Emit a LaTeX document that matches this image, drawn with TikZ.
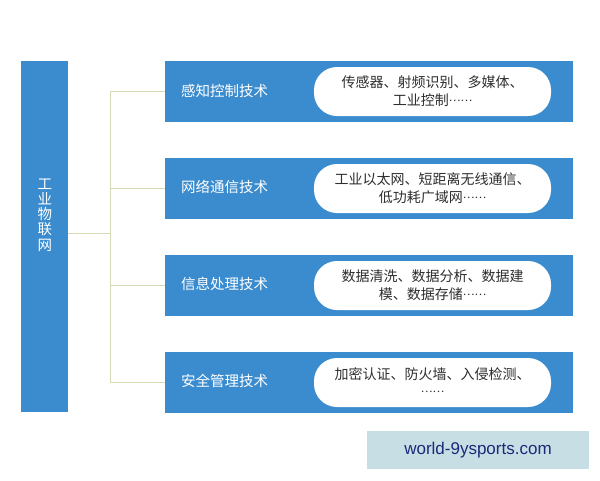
\documentclass[tikz,border=0pt]{standalone}
\usepackage{fontspec}
\setmainfont{Liberation Sans}
\newfontfamily\cjk{Noto Sans CJK SC}
\usetikzlibrary{positioning}

\definecolor{iotblue}{HTML}{3A8CCF}
\definecolor{linktan}{HTML}{D6D9B2}
\definecolor{pilltext}{HTML}{2E2E2E}
\definecolor{urlfill}{HTML}{C6DEE4}
\definecolor{urltext}{HTML}{1B2A78}

\newcommand{\middots}{\raisebox{0.32em}{\fontsize{11}{11}\selectfont ……}}

\tikzset{
  techbox/.style={fill=iotblue, draw=none, inner sep=0pt, minimum width=408pt, minimum height=61pt},
  techlabel/.style={text=white, font=\cjk\fontsize{14.5}{17}\selectfont, anchor=west, inner sep=0pt},
  pill/.style={fill=white, draw=none, rounded corners=23pt, minimum width=237pt, minimum height=49pt,
    align=center, text=pilltext, font=\cjk\fontsize{14}{18}\selectfont, inner sep=0pt},
  link/.style={draw=linktan, line width=0.9pt}
}

\begin{document}
\begin{tikzpicture}[x=1pt,y=-1pt]
          \useasboundingbox (0,0) rectangle (600,480);
          % Industrial IoT column
          \node[fill=iotblue, inner sep=0pt, minimum width=47pt, minimum height=351pt] (iot) at (44.5,236.5) {};
          \node[text=white, align=center, font=\cjk\fontsize{14.5}{15.2}\selectfont] (iotname) at (45,215) {工\\业\\物\\联\\网};
          % sensing and control
          \node[techbox] (sense) at (369,91) {};
          \node[techlabel] (senselabel) at (181,91) {感知控制技术};
          \node[pill] (sensepill) at (432.5,91.5) {传感器、射频识别、多媒体、\\工业控制\middots};
          % network communication
          \node[techbox] (net) at (369,188) {};
          \node[techlabel] (netlabel) at (181,187) {网络通信技术};
          \node[pill] (netpill) at (432.5,188.5) {工业以太网、短距离无线通信、\\低功耗广域网\middots};
          % information processing
          \node[techbox] (info) at (369,285) {};
          \node[techlabel] (infolabel) at (181,283.5) {信息处理技术};
          \node[pill] (infopill) at (432.5,285.5) {数据清洗、数据分析、数据建\\模、数据存储\middots};
          % security management
          \node[techbox] (safe) at (369,382) {};
          \node[techlabel] (safelabel) at (181,381) {安全管理技术};
          \node[pill] (safepill) at (432.5,382.5) {加密认证、防火墙、入侵检测、\\\middots};
          % tree lines
          \coordinate (hub) at (110,233);
          \draw[link] (iot.east |- hub) -- (hub);
          \draw[link] (hub |- sense.west) -- (hub |- safe.west);
          \draw[link] (hub |- sense.west) -- (sense.west);
          \draw[link] (hub |- net.west) -- (net.west);
          \draw[link] (hub |- info.west) -- (info.west);
          \draw[link] (hub |- safe.west) -- (safe.west);
          % site tag
          \node[fill=urlfill, inner sep=0pt, minimum width=222pt, minimum height=38pt, text=urltext,
            font=\fontsize{17}{20}\selectfont] (site) at (478,450) {world-9ysports.com};
\end{tikzpicture}
\end{document}
